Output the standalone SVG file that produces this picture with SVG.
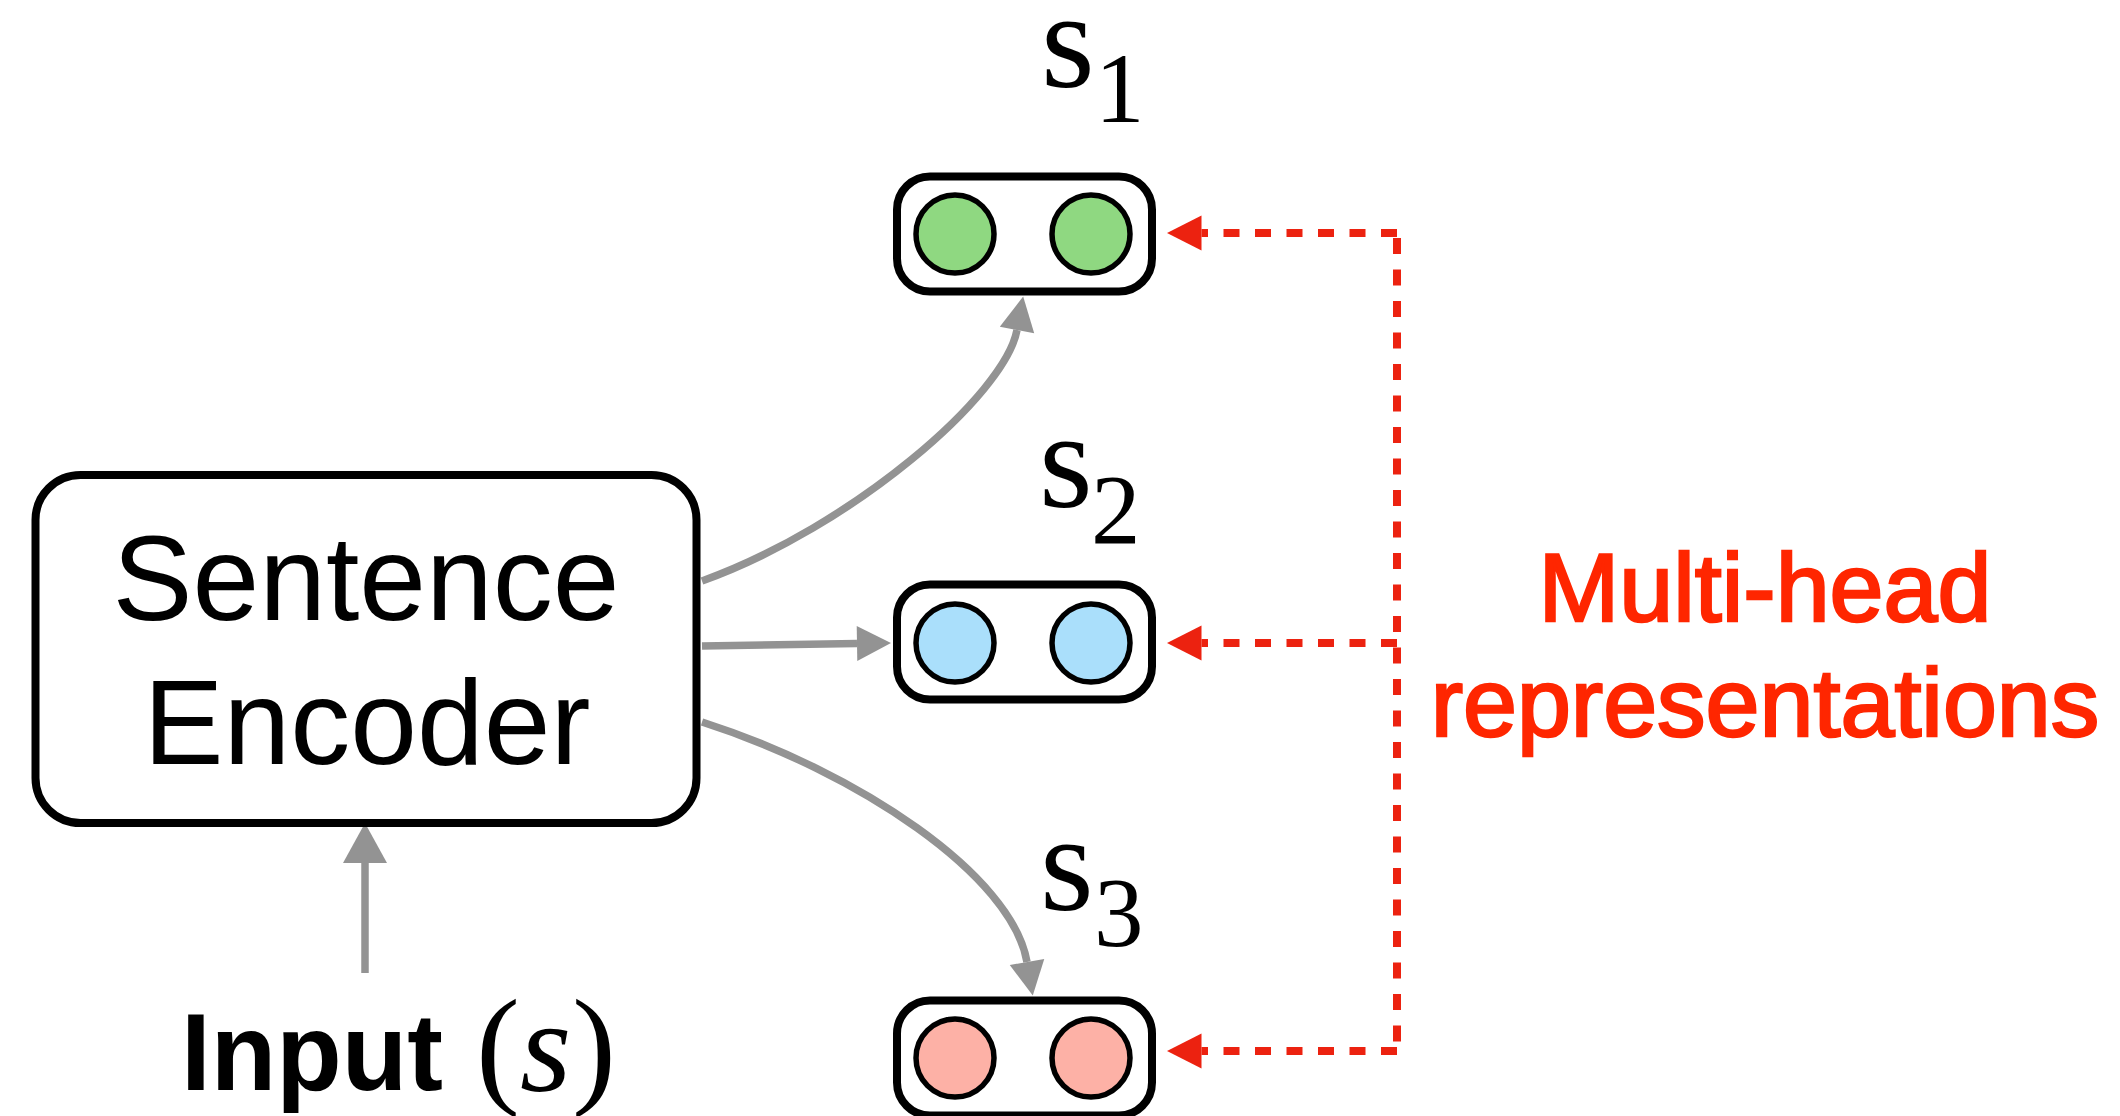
<svg xmlns="http://www.w3.org/2000/svg" width="2120" height="1116" viewBox="0 0 2120 1116">
  <style>
    .box { fill: #ffffff; stroke: #000000; stroke-width: 8; }
    .dot { stroke: #000000; stroke-width: 5.5; }
    .green { fill: #8FD881; }
    .blue { fill: #AADFFB; }
    .pink { fill: #FDB1A6; }
    .gray { fill: none; stroke: #939393; stroke-width: 7.5; }
    .red { fill: none; stroke: #EC2210; stroke-width: 8; stroke-dasharray: 16 15.5; }
    .sans { font-family: "Liberation Sans", Arial, Helvetica, sans-serif; }
    .serif { font-family: "Liberation Serif", "Times New Roman", serif; fill: #000000; }
    .note { font-family: "Liberation Sans", Arial, Helvetica, sans-serif; font-size: 97px; fill: #FF2600; stroke: #FF2600; stroke-width: 2.5; text-anchor: middle; }
  </style>
  <defs>
    <marker id="grayHead" markerUnits="userSpaceOnUse" markerWidth="36" markerHeight="36" refX="0" refY="17.5" orient="auto" overflow="visible">
      <path d="M0,0 L34,17.5 L0,35 Z" fill="#939393"/>
    </marker>
    <marker id="grayHeadBig" markerUnits="userSpaceOnUse" markerWidth="46" markerHeight="46" refX="0" refY="22" orient="auto" overflow="visible">
      <path d="M0,0 L40,22 L0,44 Z" fill="#939393"/>
    </marker>
    <marker id="redHead" markerUnits="userSpaceOnUse" markerWidth="36" markerHeight="36" refX="0" refY="17.5" orient="auto" overflow="visible">
      <path d="M0,0 L34.5,17.5 L0,35 Z" fill="#EC2210"/>
    </marker>
  </defs>

  <!-- connectors -->
  <g id="connectors">
    <path class="gray" d="M365,973 L365,863" stroke-width="11" marker-end="url(#grayHeadBig)"/>
    <path class="gray" d="M702,581 C852,527 1005,395 1017,330" marker-end="url(#grayHead)"/>
    <path class="gray" d="M702,646 L857,643.5" marker-end="url(#grayHead)"/>
    <path class="gray" d="M702,722 C858,772 1012,875 1027,962" marker-end="url(#grayHead)"/>
    <path class="red" d="M1397,238 L1397,1054"/>
    <path class="red" d="M1397,233 L1201.5,233" marker-end="url(#redHead)"/>
    <path class="red" d="M1397,643 L1201.5,643" marker-end="url(#redHead)"/>
    <path class="red" d="M1397,1051 L1201.5,1051" marker-end="url(#redHead)"/>
  </g>

  <!-- encoder -->
  <g id="encoder">
    <rect class="box" x="35.5" y="475" width="661" height="348" rx="45" ry="45"/>
    <text class="sans" x="366" y="620" font-size="120" text-anchor="middle">Sentence</text>
    <text class="sans" x="367" y="764" font-size="120" text-anchor="middle">Encoder</text>
  </g>

  <!-- input label -->
  <g id="input">
    <text class="sans" x="181" y="1090" font-size="110" font-weight="bold" textLength="262" lengthAdjust="spacingAndGlyphs">Input</text>
    <text class="serif" x="476" y="1090" font-size="132">(</text>
    <text class="serif" x="520" y="1091" font-size="132" font-style="italic">s</text>
    <text class="serif" x="572" y="1090" font-size="132">)</text>
  </g>

  <!-- head 1 -->
  <g id="head1">
    <text class="serif" x="1041" y="87" font-size="138">s</text>
    <text class="serif" x="1095" y="122" font-size="99">1</text>
    <rect class="box" x="897" y="176.5" width="255" height="115" rx="33" ry="33"/>
    <ellipse class="dot green" cx="955" cy="234" rx="39" ry="39"/>
    <ellipse class="dot green" cx="1091" cy="234" rx="39" ry="39"/>
  </g>

  <!-- head 2 -->
  <g id="head2">
    <text class="serif" x="1039" y="507" font-size="138">s</text>
    <text class="serif" x="1091" y="543" font-size="99">2</text>
    <rect class="box" x="897" y="584.5" width="255" height="115" rx="33" ry="33"/>
    <ellipse class="dot blue" cx="955" cy="643" rx="39" ry="39"/>
    <ellipse class="dot blue" cx="1091" cy="643" rx="39" ry="39"/>
  </g>

  <!-- head 3 -->
  <g id="head3">
    <text class="serif" x="1040" y="910" font-size="138">s</text>
    <text class="serif" x="1094" y="946" font-size="99">3</text>
    <rect class="box" x="897" y="1000.5" width="255" height="115" rx="33" ry="33"/>
    <ellipse class="dot pink" cx="955" cy="1058" rx="39" ry="39"/>
    <ellipse class="dot pink" cx="1091" cy="1058" rx="39" ry="39"/>
  </g>

  <!-- annotation -->
  <g id="annotation">
    <text class="note" x="1765" y="621">Multi-head</text>
    <text class="note" x="1765" y="736">representations</text>
  </g>
</svg>
